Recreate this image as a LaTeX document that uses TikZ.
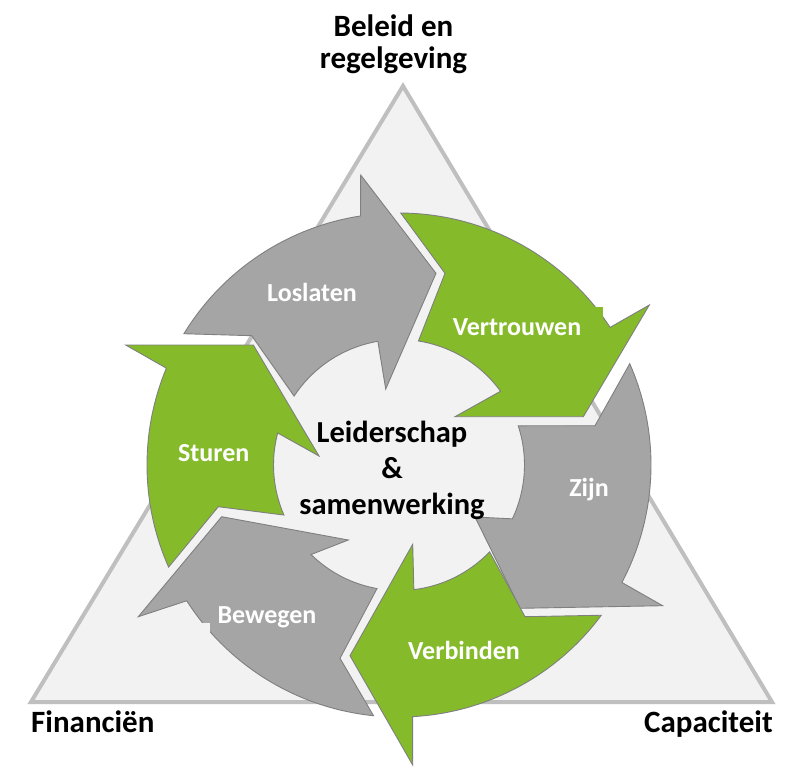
\documentclass[tikz,border=0pt]{standalone}
\usepackage{fontspec}
\setmainfont{Carlito}
\definecolor{leafgreen}{HTML}{85BB2A}
\definecolor{stonegray}{HTML}{A5A5A5}
\definecolor{edgegray}{HTML}{7F7F7F}
\definecolor{panelfill}{HTML}{F2F2F2}
\definecolor{panelline}{HTML}{BFBFBF}

\begin{document}
\begin{tikzpicture}[x=1pt,y=-1pt,
  segment/.style={draw=edgegray, line width=0.9pt, line join=miter},
  greenseg/.style={segment, fill=leafgreen},
  grayseg/.style={segment, fill=stonegray},
  steplabel/.style={text=white, font=\fontsize{26}{30}\selectfont\bfseries, inner sep=0pt, anchor=base},
  cornerlabel/.style={font=\fontsize{31}{32}\selectfont\bfseries, inner sep=0pt},
  hublabel/.style={font=\fontsize{30.5}{36}\selectfont\bfseries, inner sep=0pt, align=center},
]
\useasboundingbox (0,0) rectangle (800,766);
\fill[white] (0,0) rectangle (800,766);

% background triangle
\draw[panelline, fill=panelfill, line width=4pt, line join=miter]
  (403,86) -- (31,702) -- (772,702) -- cycle;

% six arrow segments around the hub, clockwise
\begin{scope}[shift={(399,465)}]
  % Sturen
  \draw[greenseg] (-180.7,41.7) -- (156.1:252)
    arc[start angle=156.1, end angle=202.6, radius=252]
    -- (-273.3,-120) -- (-145.7,-120) -- (-80,-9) -- (194.8:125.5)
    arc[start angle=194.8, end angle=156.5, radius=125.5] -- cycle;
  % Loslaten
  \draw[grayseg] (-147.3,-129.3) -- (211.4:252)
    arc[start angle=211.4, end angle=261.2, radius=252]
    -- (-38.3,-290) -- (37,-191.7) -- (-13.3,-76) -- (260.3:125.5)
    arc[start angle=260.3, end angle=213.3, radius=125.5] -- cycle;
  % Vertrouwen
  \draw[greenseg] (46,-191.7) -- (270.4:252)
    arc[start angle=270.4, end angle=326.9, radius=252]
    -- (250.3,-160) -- (184.3,-48.3) -- (56,-48.3) -- (324:125.5)
    arc[start angle=324, end angle=278.9, radius=125.5] -- cycle;
  % Zijn
  \draw[grayseg] (196,-39.3) -- (336.3:252)
    arc[start angle=336.3, end angle=387.8, radius=252]
    -- (263.7,140.7) -- (121,143.3) -- (76,52) -- (25.4:125.5)
    arc[start angle=25.4, end angle=-18.2, radius=125.5] -- cycle;
  % Verbinden
  \draw[greenseg] (126,151.7) -- (36.6:252)
    arc[start angle=36.6, end angle=86.9, radius=252]
    -- (13.7,300) -- (-49,190.7) -- (13.7,79.3) -- (83.2:125.5)
    arc[start angle=83.2, end angle=43.8, radius=125.5] -- cycle;
  % Bewegen
  \draw[grayseg] (-59,193.3) -- (95.8:252)
    arc[start angle=95.8, end angle=147.4, radius=252]
    -- (-260.7,151.7) -- (-177.3,51.7) -- (-50.7,75) -- (134.5:125.5)
    arc[start angle=134.5, end angle=100.1, radius=125.5] -- cycle;
\end{scope}

% small label-box remnants
\fill[leafgreen] (595,307) rectangle (603,327);
\fill[panelfill] (202,623) rectangle (210,633);

% segment labels
\node[steplabel] (loslaten)   at (312,301.7) {Loslaten};
\node[steplabel] (vertrouwen) at (517,335)   {Vertrouwen};
\node[steplabel] (zijn)       at (589,496.7) {Zijn};
\node[steplabel] (verbinden)  at (464,659)   {Verbinden};
\node[steplabel] (bewegen)    at (267,623.3) {Bewegen};
\node[steplabel] (sturen)     at (213.7,461) {Sturen};

% hub text
\node[hublabel] (hub) at (392,470.4) {Leiderschap\\\&\\samenwerking};

% corner labels
\node[cornerlabel, align=center] (beleid) at (393.5,44.5) {Beleid en\\regelgeving};
\node[cornerlabel, anchor=base west] (financien) at (31,732) {Financiën};
\node[cornerlabel, anchor=base east] (capaciteit) at (773,732) {Capaciteit};
\end{tikzpicture}
\end{document}
